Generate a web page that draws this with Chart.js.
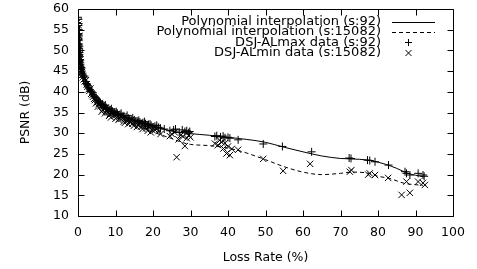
<!DOCTYPE html>
<html><head><meta charset="utf-8">
<script src="https://cdn.jsdelivr.net/npm/chart.js@4/dist/chart.umd.min.js"></script>
<style>html,body{margin:0;padding:0;background:#fff}</style>
</head><body>
<canvas id="c" width="477" height="269"></canvas>
<script>
const xTicks=[0,10,20,30,40,50,60,70,80,90,100];
const yTicks=[10,15,20,25,30,35,40,45,50,55,60];
const labels=["Polynomial interpolation (s:92)","Polynomial interpolation (s:15082)","DSJ-ALmax data (s:92)","DSJ-ALmin data (s:15082)"];

const fitMaxX=[0.3,0.6,1,1.5,2,3,4,5,7,10,13,16,20,25,30,35,40,45,50,55,60,65,70,75,78,82,85,88,92];
const fitMaxY=[56,51,47.5,45,43.3,41,39.5,38.3,36.7,35,33.8,32.8,31.7,30.5,29.9,29.5,29.0,28.5,27.8,26.6,25.5,24.5,23.9,23.7,23.4,22.5,21.5,20.3,19.5];

const fitMinX=[0.3,0.6,1,1.5,2,3,4,5,7,10,13,16,20,25,28,30,35,38,42,45,50,55,60,65,70,73,77,80,83,87,92];
const fitMinY=[56,50.5,47,44.5,42.8,40.5,39,37.8,36.2,34.4,33.0,31.8,30.3,28.7,27.7,27.3,27.0,26.7,26.0,25.2,23.6,21.9,20.6,20.0,20.3,20.6,20.4,19.6,19.1,17.9,17.4];

const maxX=[0.0,0.1,0.15,0.1,0.2,0.25,0.2,0.1,0.3,0.2,0.35,0.3,0.45,0.4,0.3,0.5,0.55,0.4,0.6,0.65,0.5,0.7,0.9,0.8,1.0,1.2,1.3,1.5,1.7,2.0,2.2,2.4,2.6,2.8,3.2,3.4,3.6,3.9,4.0,4.3,4.5,4.8,5.0,5.3,5.5,5.8,6.0,6.2,6.5,6.8,7.0,7.3,7.5,7.8,8.0,8.3,8.6,8.9,9.2,9.5,9.8,10.2,10.5,10.8,11.2,11.5,12.0,12.3,12.8,13.1,13.5,13.8,14.2,14.6,15.0,15.4,15.8,16.2,16.5,17.0,17.3,17.7,18.0,18.5,18.8,19.2,19.5,20.0,20.5,21.0,21.5,22.0,23.0,24.5,25.5,26.0,27.0,27.8,28.5,29.0,29.5,29.8,36.5,37.0,38.0,38.7,39.2,40.0,40.5,42.7,49.4,54.5,62.3,72.3,72.8,77.2,77.8,79.2,82.8,87.2,87.6,88.5,90.7,92.0,92.3];
const maxY=[58,57.5,56.5,56,55,53.5,54,53,52.5,51.5,51,50.5,50,49.5,49,48.5,47.8,47.5,47,46.5,46.5,46,45.8,45.5,45,44.5,44,43.5,43.8,42.5,42.0,41.8,41.5,41,40.5,40.2,40,39.8,39.3,39.0,38.8,38.5,38.2,37.5,37.8,37.6,37.3,36.8,36.9,36.3,36.6,36.8,36.2,35.8,35.9,35.4,35.6,35.9,35.3,34.8,35.0,35.2,34.8,34.3,34.5,34.8,34.2,33.8,33.9,34.3,33.6,33.2,33.4,33.7,33.2,32.7,32.9,33.1,32.7,32.3,32.5,32.8,32.3,31.8,32.1,32.2,31.9,31.5,31.7,31.9,31.4,31.2,31.0,30.6,30.8,31.0,30.2,30.8,30.4,30.6,30.1,30.4,29.2,29.4,29.1,29.3,28.9,29.0,28.8,28.4,27.4,26.8,25.5,24.0,23.9,23.5,23.4,23.1,22.3,20.7,20.3,19.9,20.3,19.9,19.6];

const minX=[0.1,0.05,0.2,0.1,0.15,0.3,0.2,0.25,0.3,0.35,0.2,0.4,0.5,0.3,0.5,0.4,0.7,0.6,0.8,0.9,1.0,1.1,1.3,1.5,1.8,2.1,2.3,2.5,2.8,3.0,3.3,3.5,3.8,4.0,4.3,4.5,4.8,5.0,5.3,5.5,5.8,6.0,6.3,6.6,7.0,7.2,7.5,7.8,8.0,8.3,8.5,8.8,9.0,9.4,9.8,10.0,10.5,10.8,11.0,11.5,11.8,12.2,12.5,13.0,13.4,13.8,14.1,14.5,14.9,15.3,15.7,16.0,16.4,16.8,17.2,17.5,18.0,18.2,18.6,19.0,19.4,19.8,20.2,20.5,21.0,21.5,22.0,24.5,25.0,25.8,26.3,26.8,27.5,28.0,28.5,29.0,29.5,30.0,36.5,37.3,37.8,38.3,38.8,39.2,39.6,40.0,40.5,41.0,42.7,49.4,54.7,61.9,72.5,72.9,77.4,77.8,79.2,82.7,86.3,87.6,88.5,90.7,92.0,92.5];
const minY=[57,56.2,55.5,54.5,53,53.5,52,50.5,51,49.5,50,49,48.2,48,47,46,46.8,45.5,44.5,45.2,44,44.8,43.5,43,42.5,42.8,41.8,41.2,40.6,40.2,40.8,39.5,39.2,38.8,38.3,38.0,37.2,37.5,36.4,37.0,37.3,36.5,35.2,35.6,36.0,34.8,35.3,35.8,35.0,34.2,34.6,33.8,34.8,34.9,34.2,33.5,34.0,33.2,33.5,34.2,33.6,32.8,32.5,33.0,32.2,32.8,33.2,32.3,31.8,32.6,31.5,32.0,32.4,31.6,31.0,31.8,31.9,31.2,30.6,31.4,30.2,30.8,31.5,30.8,31.1,30.5,29.8,29.3,29.8,30.2,24.2,28.5,29.6,29.2,26.9,28.8,29.5,29.0,27.5,27.1,28.3,27.8,26.3,27.6,25.1,26.8,24.7,26.2,26.0,23.8,20.9,22.6,20.7,21.1,20.0,20.3,19.9,19.2,15.1,18.3,15.6,18.3,18.0,17.5];

const pts=(xs,ys)=>xs.map((x,i)=>({x:x,y:ys[i]}));
const FONT='"DejaVu Sans", sans-serif';

const framePlugin={
  id:'frame',
  afterDatasetsDraw(chart){
    const ctx=chart.ctx, a=chart.chartArea, xs=chart.scales.x, ys=chart.scales.y;
    ctx.save();
    ctx.strokeStyle='#000'; ctx.lineWidth=1; ctx.setLineDash([]);
    ctx.beginPath();
    const L=Math.round(a.left)+0.5,R=Math.round(a.right)+0.5,T=Math.round(a.top)+0.5,B=Math.round(a.bottom)+0.5;
    ctx.rect(L,T,R-L,B-T);
    xTicks.forEach(v=>{const p=Math.round(xs.getPixelForValue(v))+0.5;ctx.moveTo(p,B);ctx.lineTo(p,B-6);ctx.moveTo(p,T);ctx.lineTo(p,T+6);});
    yTicks.forEach(v=>{const p=Math.round(ys.getPixelForValue(v))+0.5;ctx.moveTo(L,p);ctx.lineTo(L+6,p);ctx.moveTo(R,p);ctx.lineTo(R-6,p);});
    ctx.stroke();
    ctx.font='13px '+FONT; ctx.fillStyle='#000'; ctx.textAlign='right'; ctx.textBaseline='middle';
    const rows=[21.5,32,42.5,53];
    chart.data.datasets.forEach((d,i)=>{
      const y=rows[i];
      ctx.fillText(d.label,381,y);
      ctx.beginPath();
      if(i<2){ctx.setLineDash(i===1?[4,3]:[]);ctx.moveTo(392,Math.round(y)+0.5);ctx.lineTo(435,Math.round(y)+0.5);}
      else if(i===2){ctx.setLineDash([]);ctx.moveTo(408.5,y-3.5);ctx.lineTo(408.5,y+3.5);ctx.moveTo(405,y);ctx.lineTo(412,y);}
      else {ctx.setLineDash([]);ctx.moveTo(405.5,y-3);ctx.lineTo(411.5,y+3);ctx.moveTo(411.5,y-3);ctx.lineTo(405.5,y+3);}
      ctx.stroke();
    });
    ctx.restore();
  }
};

new Chart(document.getElementById('c'),{
  type:'scatter',
  data:{datasets:[
    {label:labels[0],data:pts(fitMaxX,fitMaxY),showLine:true,borderColor:'#000',borderWidth:1,pointRadius:0,cubicInterpolationMode:'monotone',fill:false},
    {label:labels[1],data:pts(fitMinX,fitMinY),showLine:true,borderColor:'#000',borderWidth:1,borderDash:[4,3],pointRadius:0,cubicInterpolationMode:'monotone',fill:false},
    {label:labels[2],data:pts(maxX,maxY),pointStyle:'cross',pointRadius:4,borderColor:'#000',backgroundColor:'#000',borderWidth:1},
    {label:labels[3],data:pts(minX,minY),pointStyle:'crossRot',pointRadius:4.5,borderColor:'#000',backgroundColor:'#000',borderWidth:1}
  ]},
  options:{
    responsive:false,animation:false,devicePixelRatio:1,
    layout:{padding:{left:0,top:9,right:24,bottom:0}},
    plugins:{legend:{display:false},tooltip:{enabled:false}},
    scales:{
      x:{type:'linear',min:0,max:100,
        afterFit:s=>{s.height=53;s.paddingLeft=0;s.paddingRight=0;},
        afterBuildTicks:s=>{s.ticks=xTicks.map(v=>({value:v}));},
        grid:{display:false,drawTicks:false},border:{display:false},
        ticks:{color:'#000',font:{family:FONT,size:12.5},padding:9,maxRotation:0},
        title:{display:true,text:'Loss Rate (%)',color:'#000',font:{family:FONT,size:12.5},padding:{top:0,bottom:4}}},
      y:{type:'linear',min:10,max:60,
        afterFit:s=>{s.width=78;s.paddingTop=0;s.paddingBottom=0;},
        afterBuildTicks:s=>{s.ticks=yTicks.map(v=>({value:v}));},
        grid:{display:false,drawTicks:false},border:{display:false},
        ticks:{color:'#000',font:{family:FONT,size:12.5},padding:9},
        title:{display:true,text:'PSNR (dB)',color:'#000',font:{family:FONT,size:12.5},padding:{top:18,bottom:0}}}
    }
  },
  plugins:[framePlugin]
});
</script>
</body></html>
